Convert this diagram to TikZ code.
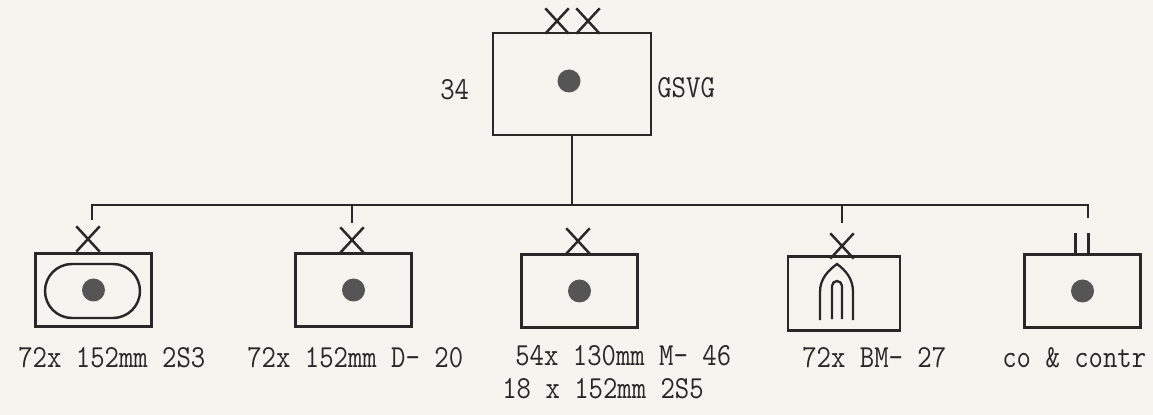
\documentclass[tikz,border=0pt]{standalone}
\usepackage{fontspec}
\usetikzlibrary{shapes.misc}
\definecolor{inkline}{RGB}{40,40,40}
\definecolor{inkdot}{RGB}{85,85,85}
\definecolor{paper}{RGB}{246,244,238}

\begin{document}
\begin{tikzpicture}[x=.02cm,y=-.02cm,
  unit/.style={draw=inkline,line width=1.5pt,minimum width=2.32cm,minimum height=1.47cm,inner sep=0pt},
  crossmark/.style={cross out,draw=inkline,line width=1.4pt,minimum width=.42cm,minimum height=.46cm,inner sep=0pt},
  bus/.style={inkline,line width=1.3pt},
  lbl/.style={font=\fontsize{15.9}{18}\selectfont\ttfamily,text=inkline,inner sep=0pt,anchor=west,yscale=1.15}]
\fill[paper] (0,0) rectangle (1153,415);
\path[use as bounding box] (0,0) rectangle (1153,415);
% staff
\node[unit,minimum width=3.16cm,minimum height=2.04cm] (hq) at (572,84) {};
\fill[inkdot] (hq.center) ++(-3,-3) circle (11.5);
\node[crossmark] (hqxa) at (557,21) {};
\node[crossmark] (hqxb) at (588,21) {};
\node[lbl] (hqnum) at (440,90) {34};
\node[lbl] (hqname) at (657,88) {GSVG};
% bus
\coordinate (busl) at (92,205);
\coordinate (busr) at (1088,205);
\draw[bus] (hq.south) -- (hq.south |- busl);
\draw[bus] (busl) ++(0,15) -- (busl) -- (busr) -- ++(0,13);
% units
\node[unit] (bat1) at (93.5,290) {};
\draw[inkline,line width=1.4pt,rounded corners=.54cm] (45,264) rectangle (140,318);
\fill[inkdot] (bat1.center) circle (11.5);
\node[crossmark] (x1) at (88,239) {};
\node[unit] (bat2) at (353.5,290) {};
\fill[inkdot] (bat2.center) circle (11.5);
\node[crossmark] (x2) at (352,240) {};
\draw[bus] (x2 |- busl) -- ++(0,18);
\node[unit] (bat3) at (579.5,291) {};
\fill[inkdot] (bat3.center) circle (11.5);
\node[crossmark] (x3) at (578,241) {};
\node[unit,minimum width=2.24cm] (bat4) at (844,293.5) {};
\draw[inkline,line width=1.3pt] (820,320) -- (820,292) .. controls (820,278) and (829,270) .. (837,264)
  .. controls (845,270) and (853,278) .. (853,292) -- (853,320);
\draw[inkline,line width=1.3pt] (832,319) -- (832,286) arc[start angle=180,end angle=360,radius=5] -- (842,319);
\node[crossmark] (x4) at (842,246) {};
\draw[bus] (x4 |- busl) -- ++(0,18);
\node[unit] (bat5) at (1082.5,291) {};
\fill[inkdot] (bat5.center) circle (11.5);
\draw[bus] (bat5.north) ++(-7,0) -- ++(0,-20) (bat5.north) ++(6,0) -- ++(0,-20);
% labels
\node[lbl] (lab1) at (18,358) {72x 152mm 2S3};
\node[lbl] (lab2) at (247,358) {72x 152mm D- 20};
\node[lbl] (lab3) at (515,356) {54x 130mm M- 46};
\node[lbl] (lab3b) at (502,389) {18 x 152mm 2S5};
\node[lbl] (lab4) at (802,358) {72x BM- 27};
\node[lbl] (lab5) at (1002,358) {co \& contr};
\end{tikzpicture}
\end{document}
